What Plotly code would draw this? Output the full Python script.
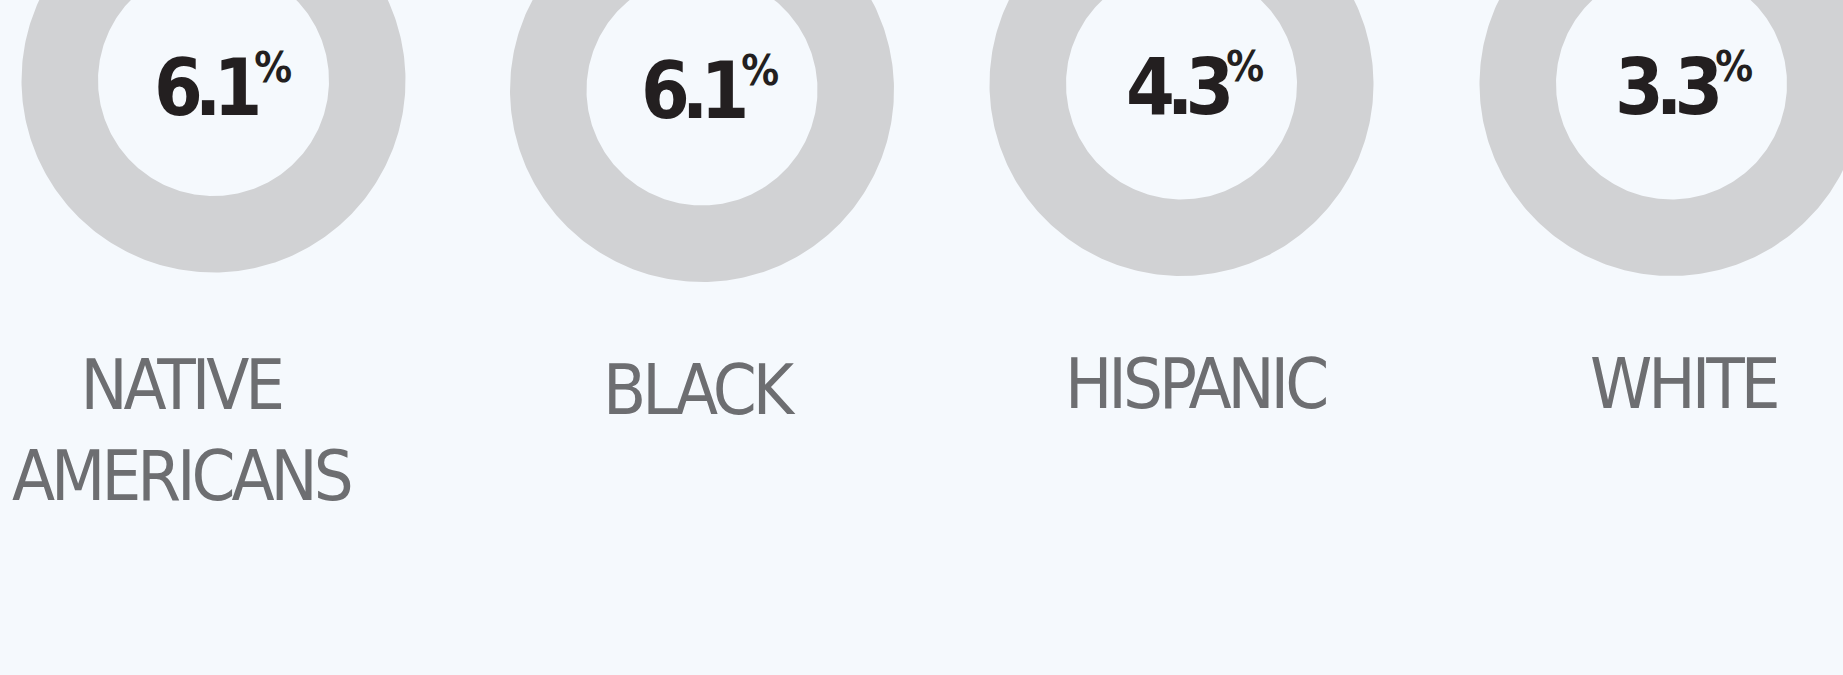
import numpy as np
import plotly.graph_objects as go

# ---- data ----
groups = ["NATIVE<br>AMERICANS", "BLACK", "HISPANIC", "WHITE"]
rates = [6.1, 6.1, 4.3, 3.3]          # percent
rate_labels = ["6.1", "6.1", "4.3", "3.3"]

# ---- layout constants (pixel space) ----
W, H = 1843, 675
cx = [213.5, 702.0, 1181.5, 1671.5]
cy = [80.5, 90.0, 84.0, 84.0]
R_OUT, R_IN = 192.0, 115.5
num_cx = [222.5, 709.5, 1195.0, 1684.0]
num_base = [116.0, 119.0, 114.5, 114.5]
lab_cx = [181.0, 699.0, 1195.0, 1683.0]
lab_top = [357.0, 362.0, 356.0, 356.0]

BG = "#f5f9fd"
RING = "#d1d2d4"
SLICE = "#2a6ebb"
NUM_COL = "#231f20"
LAB_COL = "#6d6e71"
FONT = "DejaVu Sans Condensed, Liberation Sans Narrow, Arial Narrow, sans-serif"
NUM_SIZE = 78
NUM_LS = -8
PCT_SIZE = 42
LAB_SIZE = 70
LAB_LS = -4
ASC_GAP = 0.199   # (ascent - cap height) in em
DESC = 0.236      # descent in em


def sector(x0, y0, a0, a1, n=240):
    """annular sector, angles in fraction of full turn, clockwise from 12 o'clock"""
    t = np.linspace(a0, a1, n) * 2 * np.pi
    xo = x0 + R_OUT * np.sin(t)
    yo = y0 - R_OUT * np.cos(t)
    xi = x0 + R_IN * np.sin(t[::-1])
    yi = y0 - R_IN * np.cos(t[::-1])
    xs = np.concatenate([xo, xi, xo[:1]])
    ys = np.concatenate([yo, yi, yo[:1]])
    return xs, ys


fig = go.Figure()
for i, v in enumerate(rates):
    frac = v / 100.0
    xs, ys = sector(cx[i], cy[i], 0.0, frac, 60)
    fig.add_trace(go.Scatter(x=xs, y=ys, mode="lines", fill="toself",
                             fillcolor=SLICE, line=dict(width=0),
                             hoverinfo="skip", showlegend=False))
    xs, ys = sector(cx[i], cy[i], frac, 1.0, 360)
    fig.add_trace(go.Scatter(x=xs, y=ys, mode="lines", fill="toself",
                             fillcolor=RING, line=dict(width=0),
                             hoverinfo="skip", showlegend=False))

annotations = []
for i in range(len(groups)):
    num_txt = (f"<span style='letter-spacing:{NUM_LS}px'>{rate_labels[i]}</span>"
               f"<sup><span style='font-size:{PCT_SIZE}px'>%</span></sup>")
    annotations.append(dict(
        x=num_cx[i], y=num_base[i] + DESC * NUM_SIZE + 1, xref="x", yref="y",
        xanchor="center", yanchor="bottom", showarrow=False,
        text=num_txt,
        font=dict(family=FONT, size=NUM_SIZE, color=NUM_COL, weight=700),
    ))
    lab_txt = "<br>".join(f"<span style='letter-spacing:{LAB_LS}px'>{ln}</span>"
                          for ln in groups[i].split("<br>"))
    annotations.append(dict(
        x=lab_cx[i], y=lab_top[i] - 1 - ASC_GAP * LAB_SIZE, xref="x", yref="y",
        xanchor="center", yanchor="top", showarrow=False,
        text=lab_txt, align="center",
        font=dict(family=FONT, size=LAB_SIZE, color=LAB_COL),
    ))

fig.update_layout(
    width=W, height=H,
    margin=dict(l=0, r=0, t=0, b=0),
    paper_bgcolor=BG, plot_bgcolor=BG,
    xaxis=dict(range=[0, W], visible=False, fixedrange=True),
    yaxis=dict(range=[H, 0], visible=False, fixedrange=True),
    annotations=annotations,
    showlegend=False,
    hovermode=False,
)

fig.write_html("out.html", config={"displayModeBar": False},
               post_script="document.body.style.margin='0';document.body.style.overflow='hidden';")
